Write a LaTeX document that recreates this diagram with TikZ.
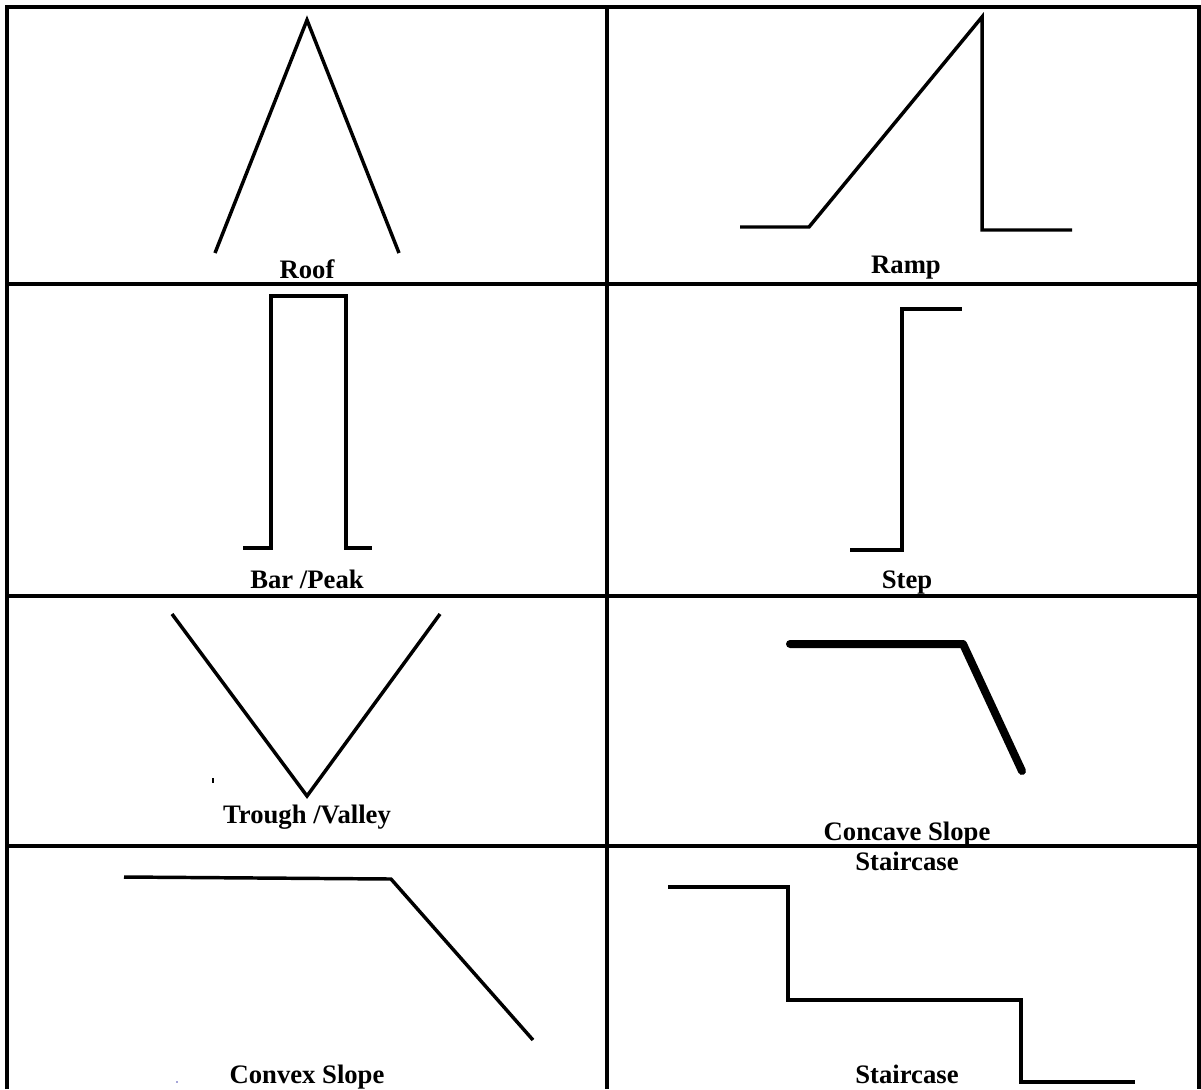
\documentclass[tikz,border=0pt]{standalone}
\usepackage{fontspec}
\setmainfont{Liberation Serif}
\begin{document}
\begin{tikzpicture}[x=0.75pt,y=-0.75pt,
  grid/.style={line width=2.5pt},
  profile/.style={line width=2.6pt},
  caption/.style={anchor=base, inner sep=0pt, font=\fontsize{20}{24}\selectfont\bfseries}]
\useasboundingbox (0,0) rectangle (1201,1089);
% table
\draw[grid] (7,1089) -- (7,7) -- (1199,7) -- (1199,1089);
\draw[grid] (607,7) -- (607,1089);
\foreach \y in {284,596,846}
  \draw[grid] (7,\y) -- (1199,\y);
% roof
\draw[profile] (215,253) -- (307,20) -- (399,253);
\node[caption] (roof) at (307,278) {Roof};
% ramp
\draw[profile] (740,227) -- (809,227) -- (982,17) -- (982,230) -- (1072,230);
\node[caption] (ramp) at (906,273) {Ramp};
% bar
\draw[profile] (243,548) -- (271,548) -- (271,296) -- (346,296) -- (346,548) -- (372,548);
\node[caption] (bar) at (307,588) {Bar /Peak};
% step
\draw[profile] (850,550) -- (902,550) -- (902,309) -- (962,309);
\node[caption] (step) at (907,588) {Step};
% trough
\draw[profile] (172,614) -- (307,796) -- (440,614);
\fill (212,778) rectangle (214,783);
\node[caption] (trough) at (307,823) {Trough /Valley};
% concave slope
\draw[line width=6pt, line cap=round, line join=round] (790,644) -- (963,644) -- (1022,771);
\node[caption] (concave) at (907,840) {Concave Slope};
\node[caption] (stairtop) at (907,870) {Staircase};
% convex slope
\draw[profile] (124,877) -- (391,879) -- (533,1040);
\fill[blue!40!gray!50] (176,1081) rectangle (178,1083);
\node[caption] (convex) at (307,1083) {Convex Slope};
% staircase
\draw[profile] (668,887) -- (788,887) -- (788,1000) -- (1021,1000) -- (1021,1082) -- (1135,1082);
\node[caption] (stairs) at (907,1083) {Staircase};
\end{tikzpicture}
\end{document}
